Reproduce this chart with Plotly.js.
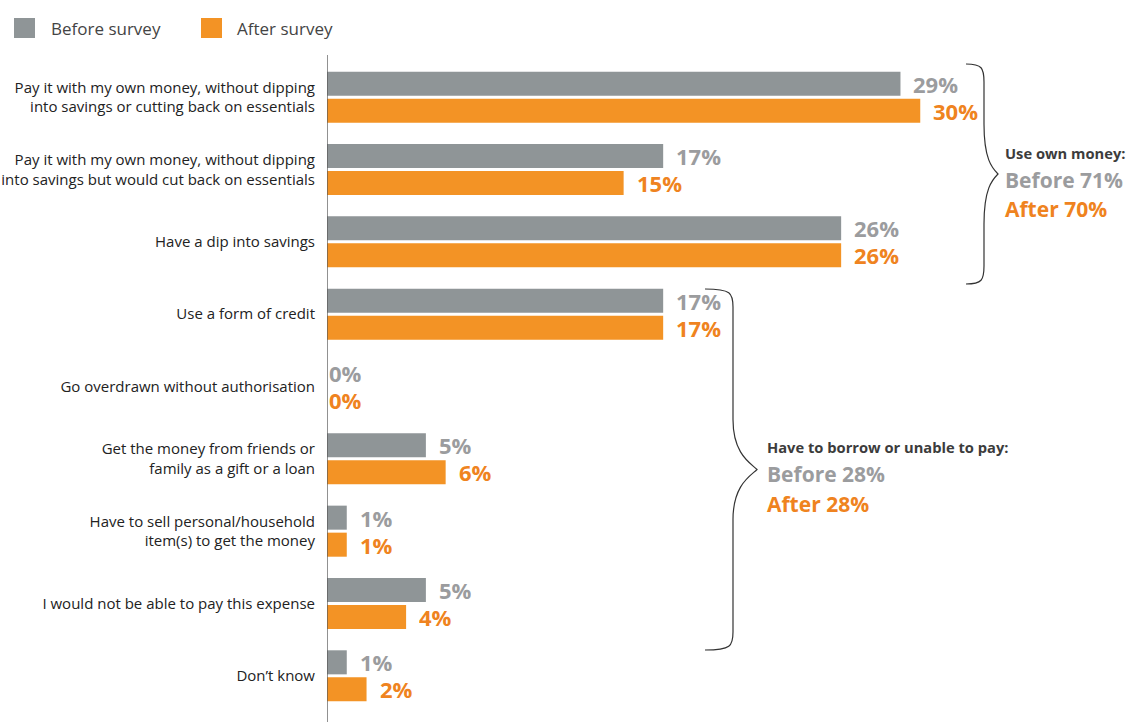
<!DOCTYPE html>
<html><head><meta charset="utf-8">
<script src="https://cdn.plot.ly/plotly-3.0.1.min.js"></script>
<style>body{margin:0;background:#fff}#c{width:1131px;height:722px}</style>
</head><body><div id="c"></div>
<script>
const categories = [
  "Pay it with my own money, without dipping<br>into savings or cutting back on essentials",
  "Pay it with my own money, without dipping<br>into savings but would cut back on essentials",
  "Have a dip into savings",
  "Use a form of credit",
  "Go overdrawn without authorisation",
  "Get the money from friends or<br>family as a gift or a loan",
  "Have to sell personal/household<br>item(s) to get the money",
  "I would not be able to pay this expense",
  "Don\u2019t know"
];
const beforeVals = [29, 17, 26, 17, 0, 5, 1, 5, 1];
const afterVals  = [30, 15, 26, 17, 0, 6, 1, 4, 2];
const seriesNames = ["Before survey", "After survey"];
const groupOwn = {title: "Use own money:", before: "Before 71%", after: "After 70%"};
const groupBorrow = {title: "Have to borrow or unable to pay:", before: "Before 28%", after: "After 28%"};

const W = 1131, H = 722;
const M = {l: 327, r: 13, t: 61, b: 10};
const PW = W - M.l - M.r, PH = H - M.t - M.b;
const px = x => (x - M.l) / PW;
const py = y => 1 - (y - M.t) / PH;

const GRAY = "#8f9597", ORANGE = "#f39325";
const GRAYT = "#9b9c9e", ORANGET = "#ef8320";
const FONT = "Open Sans, Noto Sans, sans-serif";

const traces = [
  {type: "bar", orientation: "h", name: seriesNames[0], y: categories, x: beforeVals,
   marker: {color: GRAY}, hoverinfo: "skip"},
  {type: "bar", orientation: "h", name: seriesNames[1], y: categories, x: afterVals,
   marker: {color: ORANGE}, hoverinfo: "skip"}
];

const annotations = [];
function valAnn(v, cat, up, color) {
  annotations.push({x: v, y: cat, xref: "x", yref: "y", text: v + "%", showarrow: false,
    xanchor: "left", yanchor: "middle", xshift: v === 0 ? 1 : 12, yshift: up ? 13.5 : -13.5,
    borderpad: 0, height: 24,
    font: {family: FONT, size: 22, color: color, weight: 700}});
}
categories.forEach((c, i) => {
  valAnn(beforeVals[i], c, true, GRAYT);
  valAnn(afterVals[i], c, false, ORANGET);
});

function textAnn(x, y, t, size, color, bold) {
  annotations.push({x: px(x), y: py(y), xref: "paper", yref: "paper", text: t, showarrow: false,
    xanchor: "left", yanchor: "middle", borderpad: 0,
    font: {family: FONT, size: size, color: color, weight: bold ? 700 : 400}});
}
// legend
textAnn(50, 28, seriesNames[0], 17, "#444", false);
textAnn(236, 28, seriesNames[1], 17, "#444", false);
// group texts
textAnn(1004, 153, groupOwn.title, 14.7, "#3c3c3c", true);
textAnn(1004, 180, groupOwn.before, 21, GRAYT, true);
textAnn(1004, 209, groupOwn.after, 21, ORANGET, true);
textAnn(766, 447, groupBorrow.title, 14.7, "#3c3c3c", true);
textAnn(766, 474, groupBorrow.before, 21, GRAYT, true);
textAnn(766, 504, groupBorrow.after, 21, ORANGET, true);

function brace(x0, y0, y1, xs, xt) {
  const ym = (y0 + y1) / 2, r = 18;
  const P = (x, y) => px(x).toFixed(5) + "," + py(y).toFixed(5);
  return "M" + P(x0, y0) +
    " C" + P(xs - 2, y0) + " " + P(xs, y0 + 4) + " " + P(xs, y0 + r) +
    " L" + P(xs, ym - 50) +
    " C" + P(xs, ym - 15) + " " + P(xt - 6, ym - 6) + " " + P(xt, ym) +
    " C" + P(xt - 6, ym + 6) + " " + P(xs, ym + 15) + " " + P(xs, ym + 50) +
    " L" + P(xs, y1 - r) +
    " C" + P(xs, y1 - 4) + " " + P(xs - 2, y1) + " " + P(x0, y1);
}
const shapes = [
  {type: "line", xref: "x", yref: "paper", x0: 0, x1: 0, y0: py(723), y1: py(55),
   line: {color: "#555", width: 1.3}},
  {type: "rect", xref: "paper", yref: "paper", x0: px(14), x1: px(35), y0: py(38), y1: py(18),
   fillcolor: GRAY, line: {width: 0}},
  {type: "rect", xref: "paper", yref: "paper", x0: px(201), x1: px(222), y0: py(38), y1: py(18),
   fillcolor: ORANGE, line: {width: 0}},
  {type: "path", xref: "paper", yref: "paper", path: brace(966, 64, 284, 984, 998),
   line: {color: "#333", width: 1.2}},
  {type: "path", xref: "paper", yref: "paper", path: brace(705, 289, 650, 733, 757),
   line: {color: "#333", width: 1.2}}
];

const layout = {
  width: W, height: H, margin: M, paper_bgcolor: "#fff", plot_bgcolor: "#fff",
  barmode: "group", bargap: 0.253, bargroupgap: 0.11, showlegend: false,
  font: {family: FONT, color: "#222"},
  xaxis: {range: [0, 40], visible: false, fixedrange: true},
  yaxis: {type: "category", autorange: "reversed", showline: false, showgrid: false, zeroline: false,
    ticks: "outside", ticklen: 8, tickcolor: "rgba(0,0,0,0)",
    tickfont: {family: FONT, size: 15, color: "#222"}},
  annotations: annotations, shapes: shapes
};
Plotly.newPlot("c", traces, layout, {displayModeBar: false, staticPlot: true});
</script></body></html>
